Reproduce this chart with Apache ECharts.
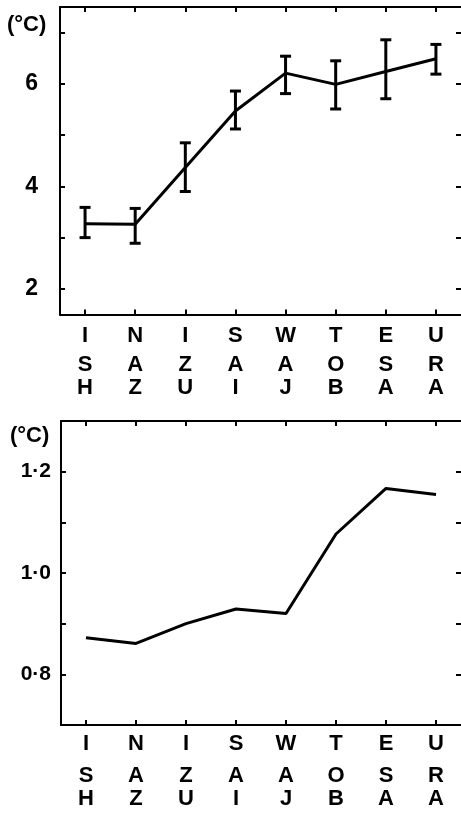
<!DOCTYPE html>
<html>
<head>
<meta charset="utf-8">
<script src="https://cdn.jsdelivr.net/npm/echarts@6/dist/echarts.min.js"></script>
<style>
html,body{margin:0;padding:0;background:#fff;}
#c{width:461px;height:813px;}
</style>
</head>
<body>
<div id="c"></div>
<script>
// ---- data ----
const categories = ['ISH','NAZ','IZU','SAI','WAJ','TOB','ESA','URA'];
const meanTemp  = [3.27, 3.26, 4.37, 5.47, 6.21, 5.99, 6.24, 6.49];
const upperTemp = [3.59, 3.57, 4.85, 5.86, 6.54, 6.45, 6.86, 6.77];
const lowerTemp = [3.00, 2.89, 3.90, 5.12, 5.81, 5.51, 5.71, 6.19];
const sdTemp    = [0.872, 0.861, 0.900, 0.929, 0.920, 1.077, 1.167, 1.155];
const topTicks   = [2, 3, 4, 5, 6, 7];
const topLabels  = [2, 4, 6];
const botTicks   = [0.8, 0.9, 1.0, 1.1, 1.2];
const botLabels  = [0.8, 1.0, 1.2];
const unitLabel = '(°C)';

const FONT = 'Liberation Sans';
const WEIGHT = 'bold';
const chart = echarts.init(document.getElementById('c'), null, {renderer:'canvas'});

function catFormatter(v){
  return v.split('').map((ch,i)=>'{l'+i+'|'+ch+'}').join('\n');
}
function richFor(lh){
  const r = {};
  lh.forEach((h,i)=>{ r['l'+i] = {fontFamily:FONT, fontWeight:WEIGHT, fontSize:22, color:'#000', lineHeight:h, align:'center'}; });
  return r;
}
const axisLine = {show:true, onZero:false, lineStyle:{color:'#000', width:2}};
const noLine = {show:false, onZero:false};
const tickIn = {show:true, inside:true, length:5, lineStyle:{color:'#000', width:2}};

const errData = categories.map((c,i)=>[i, lowerTemp[i], upperTemp[i]]);

const option = {
  animation:false,
  backgroundColor:'#fff',
  grid:[
    {left:60, top:7, width:402.5, height:307.5, containLabel:false},
    {left:61, top:421, width:404, height:304, containLabel:false}
  ],
  graphic:[
    {type:'text', left:7, top:14, style:{text:unitLabel, fontFamily:FONT, fontWeight:WEIGHT, fontSize:22, fill:'#000'}},
    {type:'text', left:10, top:425, style:{text:unitLabel, fontFamily:FONT, fontWeight:WEIGHT, fontSize:22, fill:'#000'}}
  ],
  xAxis:[
    {type:'category', gridIndex:0, position:'bottom', data:categories, boundaryGap:true,
     axisLine:axisLine, axisTick:Object.assign({alignWithLabel:true}, tickIn),
     axisLabel:{show:true, margin:7, interval:0, formatter:catFormatter, rich:richFor([29,29,17])}},
    {type:'category', gridIndex:0, position:'top', data:categories, boundaryGap:true,
     axisLine:axisLine, axisTick:Object.assign({alignWithLabel:true}, tickIn), axisLabel:{show:false}},
    {type:'category', gridIndex:1, position:'bottom', data:categories, boundaryGap:true,
     axisLine:axisLine, axisTick:Object.assign({alignWithLabel:true}, tickIn),
     axisLabel:{show:true, margin:3, interval:0, formatter:catFormatter, rich:richFor([32,32,14])}},
    {type:'category', gridIndex:1, position:'top', data:categories, boundaryGap:true,
     axisLine:axisLine, axisTick:Object.assign({alignWithLabel:true}, tickIn), axisLabel:{show:false}}
  ],
  yAxis:[
    {type:'value', gridIndex:0, position:'left', min:1.5, max:7.5,
     axisLine:axisLine, axisTick:Object.assign({customValues:topTicks}, tickIn),
     axisLabel:{show:true, customValues:topLabels, margin:22, fontFamily:FONT, fontWeight:WEIGHT, fontSize:23, color:'#000'},
     splitLine:{show:false}},
    {type:'value', gridIndex:0, position:'right', min:1.5, max:7.5,
     axisLine:noLine, axisTick:Object.assign({customValues:topTicks}, tickIn),
     axisLabel:{show:false}, splitLine:{show:false}},
    {type:'value', gridIndex:1, position:'left', min:0.7, max:1.3,
     axisLine:axisLine, axisTick:Object.assign({customValues:botTicks}, tickIn),
     axisLabel:{show:true, customValues:botLabels, margin:10, fontFamily:FONT, fontWeight:WEIGHT, fontSize:21, color:'#000',
       formatter:v=>v.toFixed(1).replace('.', '·')},
     splitLine:{show:false}},
    {type:'value', gridIndex:1, position:'right', min:0.7, max:1.3,
     axisLine:noLine, axisTick:Object.assign({customValues:botTicks}, tickIn),
     axisLabel:{show:false}, splitLine:{show:false}}
  ],
  series:[
    {type:'line', xAxisIndex:0, yAxisIndex:0, data:meanTemp, symbol:'none',
     lineStyle:{color:'#000', width:3}, z:3},
    {type:'custom', xAxisIndex:0, yAxisIndex:0, data:errData, z:4,
     renderItem:function(params, api){
       const x = api.value(0);
       const lo = api.coord([x, api.value(1)]);
       const hi = api.coord([x, api.value(2)]);
       const hw = 5.5;
       const st = {stroke:'#000', lineWidth:3};
       return {type:'group', children:[
         {type:'line', shape:{x1:lo[0], y1:lo[1], x2:hi[0], y2:hi[1]}, style:st},
         {type:'line', shape:{x1:lo[0]-hw, y1:lo[1], x2:lo[0]+hw, y2:lo[1]}, style:st},
         {type:'line', shape:{x1:hi[0]-hw, y1:hi[1], x2:hi[0]+hw, y2:hi[1]}, style:st}
       ]};
     }},
    {type:'line', xAxisIndex:2, yAxisIndex:2, data:sdTemp, symbol:'none',
     lineStyle:{color:'#000', width:3}, z:3}
  ]
};
chart.setOption(option);
</script>
</body>
</html>
